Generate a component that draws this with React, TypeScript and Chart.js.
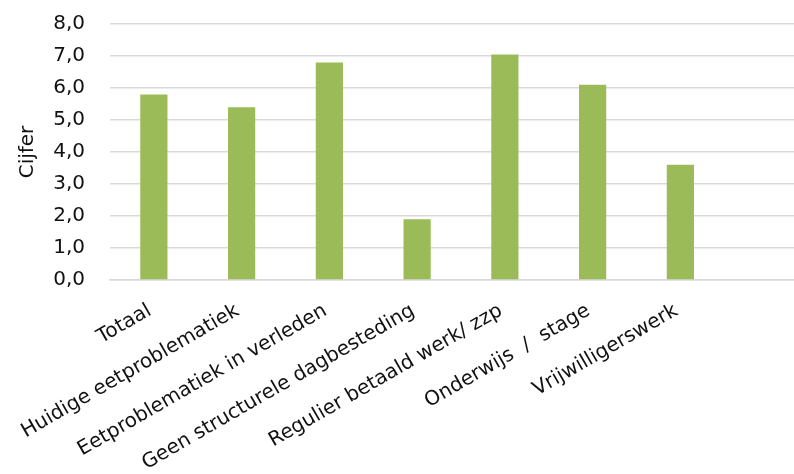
import React, { useEffect, useRef } from "react";
import { Chart, registerables } from "chart.js";

Chart.register(...registerables);

const categories = [
  "Totaal",
  "Huidige eetproblematiek",
  "Eetproblematiek in verleden",
  "Geen structurele dagbesteding",
  "Regulier betaald werk/ zzp",
  "Onderwijs  /  stage",
  "Vrijwilligerswerk",
  "",
];
const values = [5.8, 5.4, 6.8, 1.9, 7.05, 6.1, 3.6, null];
const yTicksMin = 0;
const yTicksMax = 8;
const yTitle = "Cijfer";

const FONT = "'DejaVu Sans', Verdana, sans-serif";

export default function App() {
  const ref = useRef<HTMLCanvasElement | null>(null);
  useEffect(() => {
    if (!ref.current) return;
    const chart = new Chart(ref.current, {
      type: "bar",
      data: {
        labels: categories,
        datasets: [
          {
            data: values as any,
            backgroundColor: "#9BBB59",
            borderWidth: 0,
            categoryPercentage: 1,
            barPercentage: 0.31,
          },
        ],
      },
      options: {
        responsive: false,
        animation: false,
        maintainAspectRatio: false,
        layout: { padding: { top: 24, left: 0, right: 0, bottom: 0 } },
        plugins: { legend: { display: false }, tooltip: { enabled: false } },
        scales: {
          x: {
            grid: { display: false, drawTicks: false },
            border: { display: true, color: "#d9d9d9", width: 1.5 },
            ticks: {
              minRotation: 30,
              maxRotation: 30,
              autoSkip: false,
              padding: 19,
              labelOffset: -4,
              color: "#111",
              font: { family: FONT, size: 20 },
            },
            afterFit: (s: any) => {
              s.height = 194;
              s.paddingLeft = 0;
              s.paddingRight = 0;
            },
          },
          y: {
            min: yTicksMin,
            max: yTicksMax,
            grid: { color: "#d9d9d9", lineWidth: 1.5, drawTicks: false },
            border: { display: false },
            ticks: {
              stepSize: 1,
              padding: 25,
              color: "#111",
              font: { family: FONT, size: 20 },
              callback: (v: any) => Number(v).toFixed(1).replace(".", ","),
            },
            title: {
              display: true,
              text: yTitle,
              color: "#111",
              font: { family: FONT, size: 20 },
              padding: { top: 16, bottom: 0 },
            },
            afterFit: (s: any) => {
              s.width = 110;
              s.paddingTop = 0;
              s.paddingBottom = 0;
            },
          },
        },
      },
    });
    return () => chart.destroy();
  }, []);
  return (
    <div
      style={{
        position: "fixed",
        left: 0,
        top: 0,
        width: 794,
        height: 474,
        overflow: "hidden",
        background: "#fff",
      }}
    >
      <canvas ref={ref} width={812} height={474} style={{ display: "block" }} />
    </div>
  );
}
